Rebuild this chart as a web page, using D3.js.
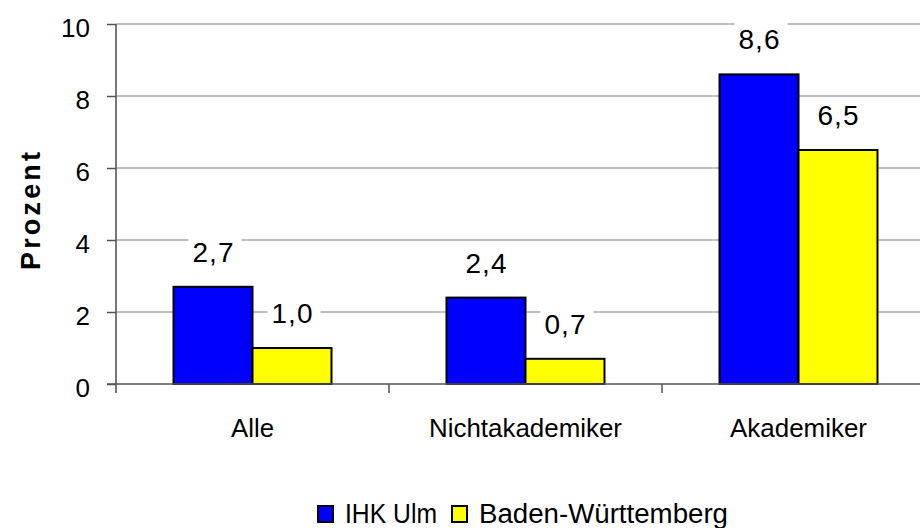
<!DOCTYPE html>
<html><head><meta charset="utf-8">
<script src="https://cdn.jsdelivr.net/npm/d3@7"></script>
<style>body{margin:0;background:#fff}svg{display:block}text{font-family:"Liberation Sans",Arial,sans-serif;fill:#000}</style>
</head><body><svg id="c" width="920" height="528"></svg>
<script>
const categories = ["Alle", "Nichtakademiker", "Akademiker"];
const series = ["IHK Ulm", "Baden-Württemberg"];
const ihkUlm = [2.7, 2.4, 8.6];
const badenWuerttemberg = [1.0, 0.7, 6.5];
const yTicks = [0, 2, 4, 6, 8, 10];
const colors = ["#0000ff", "#ffff00"];
const values = [ihkUlm, badenWuerttemberg];

const catLen = {"Alle": 43, "Nichtakademiker": 193, "Akademiker": 137};
const legLen = [92, 249];

const svg = d3.select("#c");
const pL = 116, pR = 935, pT = 24, pB = 384;
const x0 = d3.scaleBand().domain(categories).range([pL, pR]).padding(0);
const x1 = d3.scaleBand().domain(series).range([0, x0.bandwidth()]).paddingInner(0).paddingOuter(0.728);
const y = d3.scaleLinear().domain([0, 10]).range([pB, pT]);

// gridlines
svg.append("g").selectAll("line").data(yTicks.filter(d => d > 0)).join("line")
  .attr("x1", pL).attr("x2", 920).attr("y1", d => y(d)).attr("y2", d => y(d))
  .attr("stroke", "#808080").attr("stroke-width", 1.2);

// y axis
const ya = svg.append("g").attr("transform", `translate(${pL},0)`)
  .call(d3.axisLeft(y).tickValues(yTicks).tickSize(9).tickPadding(17).tickFormat(d3.format("d")));
ya.select(".domain").remove();
ya.selectAll(".tick line").attr("stroke", "#555").attr("stroke-width", 1.5);
ya.selectAll(".tick text").attr("font-size", 26).attr("dy", 12).attr("fill", "#000")
  .style("font-family", "Liberation Sans, Arial");
svg.append("line").attr("x1", pL).attr("x2", pL).attr("y1", pT).attr("y2", pB + 9)
  .attr("stroke", "#555").attr("stroke-width", 1.6);

// bars
const groups = svg.append("g").selectAll("g").data(categories).join("g")
  .attr("transform", d => `translate(${x0(d)},0)`);
groups.selectAll("rect").data((c, i) => series.map((s, j) => ({s, j, v: values[j][i]}))).join("rect")
  .attr("x", d => x1(d.s)).attr("width", x1.bandwidth())
  .attr("y", d => y(d.v)).attr("height", d => y(0) - y(d.v))
  .attr("fill", d => colors[d.j]).attr("stroke", "#000").attr("stroke-width", 2);

// x axis
const xa = svg.append("g").attr("transform", `translate(0,${pB})`);
xa.append("line").attr("x1", pL - 9).attr("x2", 920).attr("stroke", "#555").attr("stroke-width", 1.6);
xa.selectAll("line.t").data(categories.slice(1)).join("line").attr("class", "t")
  .attr("x1", d => x0(d)).attr("x2", d => x0(d)).attr("y1", 0).attr("y2", 9)
  .attr("stroke", "#555").attr("stroke-width", 1.5);
xa.selectAll("text").data(categories).join("text")
  .attr("x", d => x0(d) + x0.bandwidth() / 2).attr("y", 53)
  .attr("text-anchor", "middle").attr("font-size", 26)
  .attr("textLength", d => catLen[d]).attr("lengthAdjust", "spacingAndGlyphs").text(d => d);

// data labels
groups.each(function(c, i) {
  const g = d3.select(this);
  series.forEach((s, j) => {
    const v = values[j][i];
    const cx = x1(s) + x1.bandwidth() / 2;
    const t = g.append("text").attr("x", cx).attr("y", y(v) - 25)
      .attr("text-anchor", "middle").attr("font-size", 28)
      .attr("textLength", 41).attr("lengthAdjust", "spacing")
      .text(d3.format(".1f")(v).replace(".", ","));
    const bb = t.node().getBBox();
    g.insert("rect", "text").attr("x", bb.x - 4).attr("y", bb.y - 2).attr("width", bb.width + 12).attr("height", bb.height + 4)
      .attr("fill", "#fff");
  });
});

// y title
svg.append("text").attr("transform", "translate(40,211) rotate(-90)")
  .attr("text-anchor", "middle").attr("font-size", 27).attr("font-weight", "bold")
  .attr("textLength", 118).attr("lengthAdjust", "spacing").text("Prozent");

// legend
const lg = svg.append("g");
const lx = [318, 452];
series.forEach((s, j) => {
  lg.append("rect").attr("x", lx[j]).attr("y", 506).attr("width", 15).attr("height", 16)
    .attr("fill", colors[j]).attr("stroke", "#000").attr("stroke-width", 2);
  lg.append("text").attr("x", lx[j] + 27).attr("y", 523).attr("font-size", 27)
    .attr("textLength", legLen[j]).attr("lengthAdjust", "spacingAndGlyphs").text(s);
});
</script></body></html>
